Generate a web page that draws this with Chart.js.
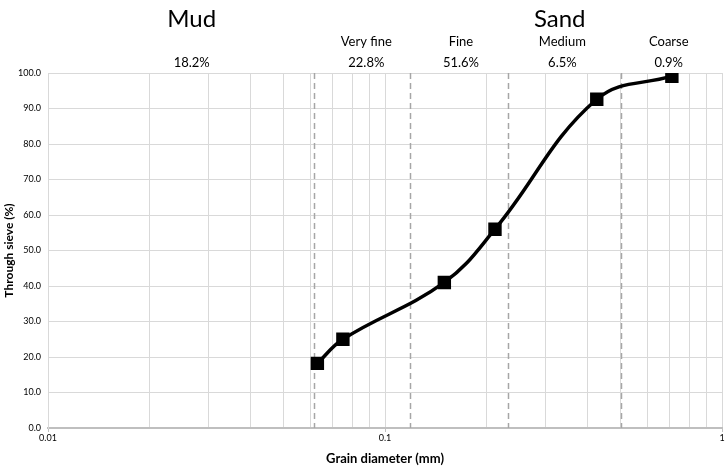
<!DOCTYPE html>
<html>
<head>
<meta charset="utf-8">
<script src="https://cdn.jsdelivr.net/npm/chart.js@4/dist/chart.umd.min.js"></script>
<style>
  html, body { margin: 0; padding: 0; background: #fff; overflow: hidden; }
  #wrap { width: 726px; height: 467px; }
  canvas { display: block; }
</style>
</head>
<body>
<div id="wrap"><canvas id="chart" width="726" height="467"></canvas></div>
<script>
// sieve sizes (mm) and cumulative % passing
const grainSizes = [0.063, 0.075, 0.15, 0.212, 0.425, 0.71];
const passing = [18.2, 25.0, 41.0, 56.0, 92.6, 99.1];

// vertical grid positions on the log axis
const xGridTicks = [0.01, 0.02, 0.03, 0.04, 0.05, 0.06, 0.07, 0.08, 0.09,
                    0.1, 0.2, 0.3, 0.4, 0.5, 0.6, 0.7, 0.8, 0.9, 1];
const xLabelTicks = [0.01, 0.1, 1];

// class boundaries (dashed lines), as drawn in the picture
const classBounds = [0.0614, 0.1184, 0.2317, 0.5];

// class headers
const groupNames = ['Mud', 'Sand'];
const groupAt = [0.0267, 0.33];
const classNames = ['', 'Very fine', 'Fine', 'Medium', 'Coarse'];
const classShares = ['18.2%', '22.8%', '51.6%', '6.5%', '0.9%'];
const classAt = [0.0267, 0.088, 0.168, 0.336, 0.695];

const FONT = 'Lato, "Open Sans", "Liberation Sans", sans-serif';

const overlay = {
  id: 'overlay',
  beforeDatasetsDraw(chart) {
    const { ctx, chartArea, scales } = chart;
    ctx.save();
    ctx.strokeStyle = '#a6a6a6';
    ctx.lineWidth = 1.5;
    ctx.setLineDash([6, 4]);
    classBounds.forEach(v => {
      const x = Math.round(scales.x.getPixelForValue(v)) + 0.5;
      ctx.beginPath();
      ctx.moveTo(x, chartArea.top);
      ctx.lineTo(x, chartArea.bottom);
      ctx.stroke();
    });
    ctx.restore();
  },
  afterDraw(chart) {
    const { ctx, scales } = chart;
    ctx.save();
    ctx.fillStyle = '#000';
    ctx.textAlign = 'center';
    ctx.textBaseline = 'middle';
    ctx.font = '24px ' + FONT;
    groupNames.forEach((t, i) => {
      ctx.fillText(t, scales.x.getPixelForValue(groupAt[i]), 19);
    });
    ctx.font = '13px ' + FONT;
    classNames.forEach((t, i) => {
      const x = scales.x.getPixelForValue(classAt[i]);
      if (t) ctx.fillText(t, x, 42);
      ctx.fillText(classShares[i], x, 63);
    });
    ctx.restore();
  }
};

new Chart(document.getElementById('chart'), {
  type: 'line',
  data: {
    datasets: [{
      data: grainSizes.map((g, i) => ({ x: g, y: passing[i] })),
      borderColor: '#000',
      backgroundColor: '#000',
      borderWidth: 3.5,
      tension: 0.4,
      pointStyle: 'rect',
      pointRadius: 7,
      pointHoverRadius: 7,
      fill: false
    }]
  },
  options: {
    responsive: false,
    animation: false,
    events: [],
    // autoPadding off, otherwise the big markers push the plot edge in
    layout: { autoPadding: false, padding: { top: 73, right: 4, left: 0, bottom: 0 } },
    plugins: { legend: { display: false }, tooltip: { enabled: false } },
    scales: {
      x: {
        type: 'logarithmic',
        min: 0.01,
        max: 1,
        afterBuildTicks(scale) {
          scale.ticks = xGridTicks.map(v => ({ value: v }));
        },
        afterFit(scale) {
          scale.height = 39;
          scale.paddingLeft = 0;
          scale.paddingRight = 0;
        },
        grid: {
          color: '#d9d9d9',
          lineWidth: 1,
          tickLength: 4,
          tickColor: c => xLabelTicks.includes(c.tick && c.tick.value) ? '#bfbfbf' : 'rgba(0,0,0,0)'
        },
        border: { color: '#bfbfbf', width: 2 },
        ticks: {
          autoSkip: false,
          maxRotation: 0,
          padding: 1,
          color: '#000',
          font: { family: FONT, size: 9 },
          callback: v => xLabelTicks.includes(v) ? String(v) : ''
        },
        title: {
          display: true,
          text: 'Grain diameter (mm)',
          color: '#000',
          font: { family: FONT, size: 13, weight: 'bold' },
          padding: { top: 4, bottom: 0 }
        }
      },
      y: {
        min: 0,
        max: 100,
        afterFit(scale) { scale.width = 48; },
        grid: { color: '#d9d9d9', lineWidth: 1, tickLength: 0 },
        border: { color: '#d9d9d9', width: 1 },
        ticks: {
          stepSize: 10,
          padding: 7,
          color: '#000',
          font: { family: FONT, size: 9 },
          callback: v => v.toFixed(1)
        },
        title: {
          display: true,
          text: 'Through sieve (%)',
          color: '#000',
          font: { family: FONT, size: 12, weight: 'bold' },
          padding: { top: 2, bottom: 0 }
        }
      }
    }
  },
  plugins: [overlay]
});
</script>
</body>
</html>
